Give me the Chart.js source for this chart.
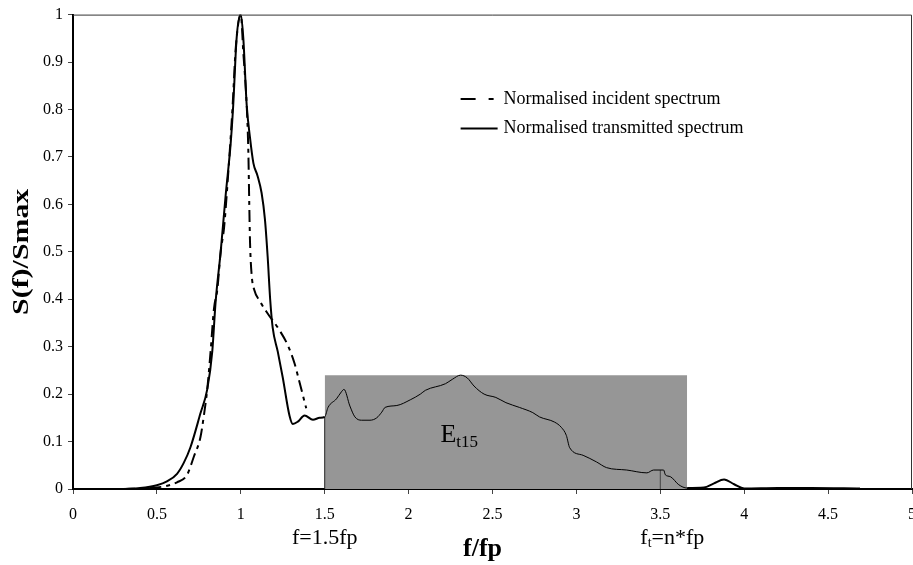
<!DOCTYPE html>
<html><head><meta charset="utf-8">
<script src="https://cdn.jsdelivr.net/npm/chart.js@4/dist/chart.umd.min.js"></script>
<style>html,body{margin:0;padding:0;background:#fff;overflow:hidden}</style>
</head><body>
<canvas id="c" width="913" height="565"></canvas>
<script>
// ---- data ----
const incidentX = [0.3,0.45,0.55,0.62,0.68,0.72,0.76,0.78,0.80,0.82,0.84,0.86,0.88,0.90,0.92,0.95,0.97,1.0,1.015,1.035,1.045,1.05,1.055,1.065,1.08,1.11,1.16,1.23,1.28,1.32,1.35,1.39];
const incidentY = [0,0.002,0.006,0.014,0.03,0.068,0.11,0.155,0.21,0.29,0.38,0.42,0.5,0.55,0.64,0.8,0.93,1.0,0.92,0.81,0.71,0.61,0.52,0.45,0.42,0.398,0.37,0.335,0.303,0.265,0.225,0.17];
const transX = [0.3,0.4,0.5,0.56,0.62,0.66,0.70,0.76,0.80,0.83,0.85,0.88,0.91,0.94,0.955,0.975,1.0,1.015,1.035,1.055,1.075,1.1,1.124,1.144,1.16,1.175,1.19,1.22,1.25,1.29,1.31,1.34,1.38,1.43,1.47,1.5,1.52,1.57,1.6,1.615,1.65,1.68,1.72,1.77,1.81,1.84,1.86,1.93,2.01,2.07,2.1,2.22,2.26,2.31,2.35,2.39,2.45,2.52,2.58,2.66,2.74,2.78,2.87,2.91,2.94,2.96,3.04,3.12,3.18,3.3,3.42,3.46,3.52,3.53,3.56,3.61,3.66,3.76,3.82,3.88,3.94,4.0,4.2,4.4,4.69];
const transY = [0,0.002,0.008,0.016,0.032,0.055,0.088,0.16,0.21,0.29,0.395,0.5,0.62,0.73,0.81,0.95,1.0,0.95,0.81,0.74,0.687,0.66,0.624,0.568,0.49,0.40,0.34,0.29,0.235,0.155,0.137,0.142,0.155,0.146,0.15,0.152,0.172,0.19,0.205,0.21,0.175,0.152,0.145,0.145,0.15,0.162,0.172,0.176,0.188,0.2,0.208,0.222,0.231,0.24,0.234,0.217,0.2,0.193,0.182,0.172,0.161,0.152,0.141,0.13,0.113,0.087,0.071,0.057,0.045,0.04,0.034,0.04,0.04,0.03,0.026,0.009,0.002,0.003,0.012,0.02,0.01,0.001,0.002,0.002,0.001];
// shaded energy band E_t15 between f = 1.5fp and f_t
const bandX = [1.5, 3.66];
const bandY = [0.24, 0.24];
// marker lines at 1.5fp and n*fp
const markAX = [1.5, 1.5], markAY = [0, 0.152];
const markBX = [3.5, 3.5], markBY = [0, 0.04];
const xTickValues = [0,0.5,1,1.5,2,2.5,3,3.5,4,4.5,5];
const yTickValues = [0,0.1,0.2,0.3,0.4,0.5,0.6,0.7,0.8,0.9,1];
const legendLabels = ['Normalised incident spectrum','Normalised transmitted spectrum'];
const axisTitles = {x:'f/fp', y:'S(f)/Smax'};
const bandLabel = ['E','t15'];
const bandLabelPos = [2.19, 0.1];
const markLabels = [{x:1.5, text:'f=1.5fp'}, {x:3.5, main:'f', sub:'t', rest:'=n*fp'}];

const pts = (xs, ys) => xs.map((v,i)=>({x:v,y:ys[i]}));
const SERIF = '"Liberation Serif", "Times New Roman", serif';
const fmt = v => String(Math.round(v*10)/10);

const annot = {
  id:'annot',
  afterDatasetsDraw(chart){
    const {ctx, chartArea:a, scales:{x,y}} = chart;
    ctx.save();
    // thin frame top/right
    ctx.strokeStyle='#333'; ctx.lineWidth=1;
    ctx.beginPath(); ctx.moveTo(a.left, a.top+0.5); ctx.lineTo(a.right-0.5, a.top+0.5); ctx.lineTo(a.right-0.5, a.bottom); ctx.stroke();
    // band label
    ctx.fillStyle='#000'; ctx.textBaseline='alphabetic'; ctx.textAlign='left';
    const ex=x.getPixelForValue(bandLabelPos[0]), ey=y.getPixelForValue(bandLabelPos[1]);
    ctx.font='26px '+SERIF; ctx.fillText(bandLabel[0], ex, ey);
    const w=ctx.measureText(bandLabel[0]).width;
    ctx.font='17px '+SERIF; ctx.fillText(bandLabel[1], ex+w, ey+5);
    // legend
    const lx = x.getPixelForValue(2.31), ly1 = y.getPixelForValue(0.822), ly2 = y.getPixelForValue(0.76);
    ctx.strokeStyle='#000'; ctx.lineWidth=2;
    ctx.setLineDash([15,13,5,100]);
    ctx.beginPath(); ctx.moveTo(lx, ly1); ctx.lineTo(lx+35, ly1); ctx.stroke();
    ctx.setLineDash([]);
    ctx.beginPath(); ctx.moveTo(lx, ly2); ctx.lineTo(lx+37, ly2); ctx.stroke();
    ctx.font='18px '+SERIF; ctx.textBaseline='middle';
    ctx.fillText(legendLabels[0], lx+43, ly1);
    ctx.fillText(legendLabels[1], lx+43, ly2);
    ctx.restore();
  },
  afterDraw(chart){
    const {ctx, chartArea:a, scales:{x}} = chart;
    ctx.save();
    ctx.fillStyle='#000'; ctx.textBaseline='middle';
    const ty = 538;
    ctx.font='22px '+SERIF; ctx.textAlign='center';
    ctx.fillText(markLabels[0].text, x.getPixelForValue(markLabels[0].x), ty);
    // f_t = n*fp
    const m = markLabels[1];
    ctx.textAlign='left';
    let px = x.getPixelForValue(m.x) - 20;
    ctx.fillText(m.main, px, ty); px += ctx.measureText(m.main).width;
    ctx.font='14px '+SERIF; ctx.fillText(m.sub, px, ty+5); px += ctx.measureText(m.sub).width;
    ctx.font='22px '+SERIF; ctx.fillText(m.rest, px, ty);
    // axis titles
    ctx.textAlign='center';
    ctx.font='bold 26px '+SERIF;
    ctx.fillText(axisTitles.x, (a.left+a.right)/2 - 10, 549);
    ctx.translate(22, (a.top+a.bottom)/2);
    ctx.rotate(-Math.PI/2);
    ctx.scale(1.3, 1);
    ctx.font='bold 23px '+SERIF;
    ctx.fillText(axisTitles.y, 0, 0);
    ctx.restore();
  }
};

new Chart(document.getElementById('c'), {
  type:'line',
  data:{ datasets:[
    {label:legendLabels[1], data:pts(transX,transY), borderColor:'#000', borderWidth:2, pointRadius:0, fill:false,
      cubicInterpolationMode:'monotone', order:1,
      segment:{ borderWidth: c => (transX[c.p0DataIndex] >= 1.5 && transX[c.p1DataIndex] <= 3.66) ? 1 : 2 }},
    {label:legendLabels[0], data:pts(incidentX,incidentY), borderColor:'#000', borderWidth:2, borderDash:[12,5,4,5], pointRadius:0, fill:false,
      cubicInterpolationMode:'monotone', order:2},
    {label:'markA', data:pts(markAX,markAY), borderColor:'#222', borderWidth:1, pointRadius:0, fill:false, order:3},
    {label:'markB', data:pts(markBX,markBY), borderColor:'#444', borderWidth:1, pointRadius:0, fill:false, order:3},
    {label:'band', data:pts(bandX,bandY), borderWidth:0, borderColor:'rgba(0,0,0,0)', backgroundColor:'#969696', pointRadius:0, fill:'origin', order:10}
  ]},
  options:{
    responsive:false, animation:false, devicePixelRatio:1,
    layout:{padding:{top:10,right:1,left:0,bottom:0}},
    plugins:{legend:{display:false}, tooltip:{enabled:false}},
    scales:{
      x:{type:'linear', min:0, max:5,
        afterBuildTicks: s => { s.ticks = xTickValues.map(v=>({value:v})); },
        afterFit: s => { s.height = 76; s.paddingRight = 0; s.paddingLeft = 0; },
        ticks:{font:{family:SERIF,size:16}, color:'#000', padding:11, maxRotation:0, autoSkip:false, callback: v => fmt(v)},
        grid:{drawOnChartArea:false, drawTicks:true, tickLength:5, color:'#444'},
        border:{color:'#000', width:2}
      },
      y:{type:'linear', min:0, max:1,
        afterBuildTicks: s => { s.ticks = yTickValues.map(v=>({value:v})); },
        afterFit: s => { s.width = 73; },
        ticks:{font:{family:SERIF,size:16}, color:'#000', padding:5, callback: v => fmt(v)},
        grid:{drawOnChartArea:false, drawTicks:true, tickLength:5, color:'#444'},
        border:{color:'#000', width:2}
      }
    }
  },
  plugins:[annot]
});
</script>
</body></html>
